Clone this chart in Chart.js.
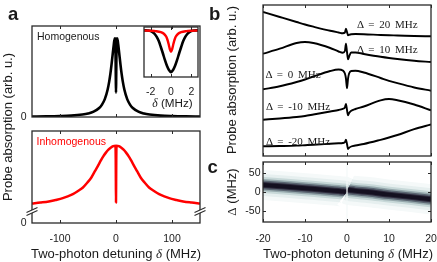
<!DOCTYPE html>
<html>
<head>
<meta charset="utf-8">
<script src="https://cdn.jsdelivr.net/npm/chart.js@4.4.1/dist/chart.umd.min.js"></script>
<style>
    html, body { margin: 0; padding: 0; background: #fff; }
    #fig { position: relative; width: 437px; height: 262px; overflow: hidden; font-family: "Liberation Sans", Arial, sans-serif; color: #1a1a1a; }
    canvas { position: absolute; }
    .t { position: absolute; white-space: nowrap; line-height: 1; }
    .lbl { font-size: 13px; }
    .mid { transform: translateX(-50%); }
    .rot { transform: translate(-50%, -50%) rotate(-90deg); }
    .sym { font-family: "Liberation Serif", serif; font-style: italic; }
    .up { font-family: "Liberation Serif", serif; }
    .tex { font-family: "Liberation Serif", serif; font-size: 11px; word-spacing: 2px; }
    .letter { font-weight: bold; font-size: 18.5px; }
</style>
</head>
<body>
<div id="fig">
    <canvas id="homChart"></canvas>
    <canvas id="insetChart"></canvas>
    <canvas id="inhomChart"></canvas>
    <canvas id="detuneChart"></canvas>
    <canvas id="mapChart"></canvas>

    <div class="t letter" style="left:8px;top:4.5px">a</div>
    <div class="t letter" style="left:209px;top:5px">b</div>
    <div class="t letter" style="left:207.5px;top:157.5px">c</div>

    <div class="t" style="left:37px;top:31px;font-size:10.5px">Homogenous</div>
    <div class="t" style="left:36.5px;top:135.5px;font-size:10.5px;color:#ff0000">Inhomogenous</div>
    <div class="t mid" style="left:172.5px;top:96.5px;font-size:11.7px"><span class="sym">δ</span> (MHz)</div>

    <div class="t lbl rot" style="left:6.7px;top:127px">Probe absorption (arb. u.)</div>
    <div class="t lbl rot" style="left:231px;top:80px">Probe absorption (arb. u.)</div>
    <div class="t lbl rot" style="left:231px;top:192px"><span class="up">Δ</span> (MHz)</div>
    <div class="t lbl mid" style="left:116px;top:246.5px">Two-photon detuning <span class="sym">δ</span> (MHz)</div>
    <div class="t lbl mid" style="left:348px;top:246.5px">Two-photon detuning <span class="sym">δ</span> (MHz)</div>

    <div class="t tex" style="left:357px;top:18.5px">Δ = 20 MHz</div>
    <div class="t tex" style="left:357px;top:43.5px">Δ = 10 MHz</div>
    <div class="t tex" style="left:265.5px;top:68.5px">Δ = 0 MHz</div>
    <div class="t tex" style="left:266px;top:100.5px">Δ = -10 MHz</div>
    <div class="t tex" style="left:266px;top:135.5px">Δ = -20 MHz</div>
</div>

<script>
// panel a, top: homogeneous line (MHz, arb. u.)
const homDetuning = [-150, -125, -100, -80, -60, -50, -40, -30, -25, -20, -15, -12, -10, -8, -6, -5, -4, -3, -2, -1.5, -1, -0.6, -0.3,
    0, 0.3, 0.6, 1, 1.5, 2, 3, 4, 5, 6, 8, 10, 12, 15, 20, 25, 30, 40, 50, 60, 80, 100, 125, 150];
const homAbsorption = [0.005, 0.007, 0.011, 0.017, 0.03, 0.042, 0.064, 0.109, 0.15, 0.216, 0.329, 0.434, 0.524, 0.633, 0.754, 0.815, 0.873, 0.924, 0.95, 0.94, 0.85, 0.65, 0.45,
    0.295, 0.45, 0.65, 0.85, 0.94, 0.95, 0.924, 0.873, 0.815, 0.754, 0.633, 0.524, 0.434, 0.329, 0.216, 0.15, 0.109, 0.064, 0.042, 0.03, 0.017, 0.011, 0.007, 0.005];

// inset: zoom on the narrow dip
const insetBlackDetuning = [-2.65, -2.3, -2, -1.8, -1.6, -1.4, -1.2, -1, -0.8, -0.6, -0.4, -0.2, 0, 0.2, 0.4, 0.6, 0.8, 1, 1.2, 1.4, 1.6, 1.8, 2, 2.3, 2.65];
const insetBlack = [0.998, 0.993, 0.98, 0.955, 0.91, 0.84, 0.74, 0.6, 0.45, 0.29, 0.15, 0.05, 0, 0.05, 0.15, 0.29, 0.45, 0.6, 0.74, 0.84, 0.91, 0.955, 0.98, 0.993, 0.998];
const insetRedDetuning = [-2.65, -2, -1.5, -1, -0.7, -0.5, -0.4, -0.3, -0.2, -0.1, 0, 0.1, 0.2, 0.3, 0.4, 0.5, 0.7, 1, 1.5, 2, 2.65];
const insetRed = [0.993, 0.988, 0.979, 0.955, 0.916, 0.857, 0.807, 0.734, 0.636, 0.534, 0.485, 0.534, 0.636, 0.734, 0.807, 0.857, 0.916, 0.955, 0.979, 0.988, 0.993];

// panel a, bottom: inhomogeneous line
const inhomDetuning = [-150, -135, -120, -108, -95, -86, -77, -68, -59, -51, -44, -38, -32, -27, -23, -18, -14, -9, -5, -1, -0.5, -0.25,
    0, 0.25, 0.5, 1, 5, 9, 14, 18, 23, 27, 32, 38, 44, 51, 59, 68, 77, 86, 95, 108, 120, 135, 150];
const inhomAbsorption = [0.212, 0.222, 0.234, 0.25, 0.27, 0.29, 0.313, 0.347, 0.386, 0.44, 0.495, 0.56, 0.624, 0.68, 0.722, 0.765, 0.794, 0.82, 0.835, 0.841, 0.7, 0.45,
    0.223, 0.45, 0.7, 0.841, 0.835, 0.82, 0.794, 0.765, 0.722, 0.68, 0.624, 0.56, 0.495, 0.44, 0.386, 0.347, 0.313, 0.29, 0.27, 0.25, 0.234, 0.222, 0.212];
const axisBreak = 0.125;

// panel b: traces for five single-photon detunings
const traceDetuning = [-20, -16, -12, -10, -8, -4, -2, -1, -0.5, -0.25, 0, 0.25, 0.5, 1, 2, 4, 8, 10, 12, 16, 20];
const trace20 = [14.4, 13.9, 13.4, 13.15, 12.93, 12.52, 12.35, 12.27, 12.35, 12.73, 12.4, 12.07, 12.12, 12.18, 12.2, 12.18, 12.1, 12.07, 12.05, 12.0, 11.97];
const trace10 = [10.23, 10.73, 11.3, 11.4, 11.3, 10.8, 10.45, 10.33, 10.5, 11.23, 10.4, 9.67, 9.95, 10.35, 10.35, 10.2, 9.92, 9.8, 9.7, 9.53, 9.4];
const trace0 = [6.67, 6.97, 7.4, 7.65, 7.95, 8.5, 8.65, 8.55, 8.25, 7.75, 6.77, 7.75, 8.25, 8.5, 8.53, 8.35, 7.8, 7.52, 7.28, 6.85, 6.53];
const traceMinus10 = [3.63, 3.75, 3.9, 4.0, 4.15, 4.45, 4.6, 4.72, 4.85, 5.2, 4.6, 4.07, 4.3, 4.52, 4.7, 4.95, 5.57, 5.7, 5.58, 5.15, 4.57];
const traceMinus20 = [0.97, 1.0, 1.04, 1.08, 1.12, 1.22, 1.27, 1.3, 1.38, 1.63, 1.2, 0.7, 0.82, 0.95, 1.05, 1.2, 1.62, 1.85, 2.1, 2.68, 3.15];

// panel c: centre of the absorption band in the map
const bandLeftDetuning = [-20, -15, -10, -5, -2, -1, -0.5, -0.2];
const bandLeftCenter = [19, 14.5, 10, 5.5, 2.5, 1.5, 0.5, -2];
const bandRightDetuning = [0.2, 0.5, 1, 2, 5, 10, 15, 20];
const bandRightCenter = [7, 5.5, 4.5, 3, 0, -7, -13, -19.5];
const resonanceDetuning = [0, 0];
const resonanceSpan = [-80, 80];

const tickFont = { family: "'Liberation Sans', Arial, sans-serif", size: 10.5 };

function points(xs, ys) {
    return xs.map((x, i) => ({ x, y: ys[i] }));
}

function curve(xs, ys, color, width) {
    return {
        data: points(xs, ys),
        borderColor: color,
        borderWidth: width,
        pointRadius: 0,
        cubicInterpolationMode: "monotone",
        borderJoinStyle: "round",
        clip: 0,
        fill: false
    };
}

function axis(min, max, tickValues, showLabels, size, padding) {
    return {
        type: "linear",
        min,
        max,
        grid: { display: false, drawTicks: false },
        border: { display: false },
        afterBuildTicks: (scale) => { scale.ticks = tickValues.map((value) => ({ value })); },
        afterFit: (scale) => {
            if (scale.isHorizontal()) scale.height = size;
            else scale.width = size;
            // labels may hang over the plot edges, keep the plot box fixed
            scale.paddingLeft = scale.paddingRight = scale.paddingTop = scale.paddingBottom = 0;
        },
        ticks: { display: showLabels, padding, color: "#1a1a1a", font: tickFont, callback: (v) => String(v) }
    };
}

// draws the box, inward ticks and the // axis break
const framePlugin = {
    id: "frame",
    afterDatasetsDraw(chart, args, opts) {
        const { ctx, chartArea: area, scales } = chart;
        const len = 3;
        ctx.save();
        ctx.strokeStyle = "#2a2a2a";
        ctx.lineWidth = 1;
        ctx.beginPath();
        if (opts.xTicks) {
            scales.x.ticks.forEach((tick) => {
                const px = Math.round(scales.x.getPixelForValue(tick.value)) + 0.5;
                ctx.moveTo(px, area.bottom); ctx.lineTo(px, area.bottom - len);
                ctx.moveTo(px, area.top); ctx.lineTo(px, area.top + len);
            });
        }
        if (opts.yTicks) {
            scales.y.ticks.forEach((tick) => {
                const py = Math.round(scales.y.getPixelForValue(tick.value)) + 0.5;
                ctx.moveTo(area.left, py); ctx.lineTo(area.left + len, py);
                ctx.moveTo(area.right, py); ctx.lineTo(area.right - len, py);
            });
        }
        ctx.stroke();
        ctx.lineWidth = 1.3;
        ctx.strokeRect(area.left, area.top, area.width, area.height);

        if (opts.breakAt !== undefined) {
            const py = scales.y.getPixelForValue(opts.breakAt);
            const dx = 5.5, dy = 2.5, gap = 1.6;
            [area.left, area.right].forEach((px) => {
                ctx.fillStyle = "#fff";
                ctx.beginPath();
                ctx.moveTo(px - dx, py - gap + dy);
                ctx.lineTo(px + dx, py - gap - dy);
                ctx.lineTo(px + dx, py + gap - dy);
                ctx.lineTo(px - dx, py + gap + dy);
                ctx.closePath();
                ctx.fill();
                ctx.lineWidth = 1.1;
                ctx.beginPath();
                ctx.moveTo(px - dx, py - gap + dy); ctx.lineTo(px + dx, py - gap - dy);
                ctx.moveTo(px - dx, py + gap + dy); ctx.lineTo(px + dx, py + gap - dy);
                ctx.stroke();
            });
        }
        ctx.restore();
    }
};

function makeChart(id, frame, yWidth, xHeight, datasets, scales, frameOpts) {
    const pad = 8;
    const canvas = document.getElementById(id);
    const width = frame.r - frame.l + yWidth + 2 * pad;
    const height = frame.b - frame.t + xHeight + 2 * pad;
    canvas.style.left = (frame.l - yWidth - pad) + "px";
    canvas.style.top = (frame.t - pad) + "px";
    canvas.style.width = width + "px";
    canvas.style.height = height + "px";
    canvas.width = width;
    canvas.height = height;

    return new Chart(canvas, {
        type: "line",
        data: { datasets },
        options: {
            responsive: false,
            animation: false,
            devicePixelRatio: 1,
            layout: { padding: pad },
            plugins: { legend: { display: false }, tooltip: { enabled: false }, frame: frameOpts },
            scales
        },
        plugins: [framePlugin]
    });
}

function createCharts() {
    makeChart("homChart", { l: 32, t: 26, r: 200, b: 117 }, 22, 0,
        [curve(homDetuning, homAbsorption, "#000", 2.6)],
        { x: axis(-150, 150, [-100, 0, 100], false, 0, 0), y: axis(0, 1.1, [0], true, 22, 5.5) },
        { xTicks: true });

    // first dataset is drawn on top, so red comes first
    makeChart("insetChart", { l: 144, t: 27, r: 198, b: 77 }, 0, 22,
        [curve(insetRedDetuning, insetRed, "#ff0000", 2.4), curve(insetBlackDetuning, insetBlack, "#000", 2.6)],
        { x: axis(-2.65, 2.65, [-2, 0, 2], true, 22, 9), y: axis(-0.117, 1.077, [], false, 0, 0) },
        { xTicks: true });

    makeChart("inhomChart", { l: 32, t: 131, r: 200, b: 223 }, 22, 24,
        [curve(inhomDetuning, inhomAbsorption, "#ff0000", 2.5)],
        { x: axis(-150, 150, [-100, 0, 100], true, 24, 9.5), y: axis(0, 1, [0], true, 22, 5.5) },
        { xTicks: true, breakAt: axisBreak });

    makeChart("detuneChart", { l: 263, t: 5, r: 431, b: 156 }, 0, 0,
        [trace20, trace10, trace0, traceMinus10, traceMinus20].map((trace) => curve(traceDetuning, trace, "#000", 1.9)),
        { x: axis(-20, 20, [-20, -10, 0, 10, 20], false, 0, 0), y: axis(0, 15.1, [], false, 0, 0) },
        { xTicks: true });

    // band drawn as stacked strokes, narrow dark core on top
    const bandLayers = [
        { width: 4, color: "#141020" },
        { width: 6, color: "#2f2c3e" },
        { width: 9, color: "#5b6672" },
        { width: 12, color: "#95a8ac" },
        { width: 16, color: "#c7d8d8" },
        { width: 22, color: "#e6efef" },
        { width: 30, color: "#f5f9f9" }
    ];
    const bandSets = [curve(resonanceDetuning, resonanceSpan, "#f4f8f8", 1.2)];
    bandLayers.forEach((layer) => {
        bandSets.push(curve(bandLeftDetuning, bandLeftCenter, layer.color, layer.width));
        bandSets.push(curve(bandRightDetuning, bandRightCenter, layer.color, layer.width));
    });

    makeChart("mapChart", { l: 263, t: 162, r: 431, b: 222 }, 22, 24,
        bandSets,
        { x: axis(-20, 20, [-20, -10, 0, 10, 20], true, 24, 10.5), y: axis(-80, 80, [-50, 0, 50], true, 22, 2.5) },
        { xTicks: true, yTicks: true });
}

document.addEventListener("DOMContentLoaded", () => {
    if (window.Chart) createCharts();
});
</script>
</body>
</html>
